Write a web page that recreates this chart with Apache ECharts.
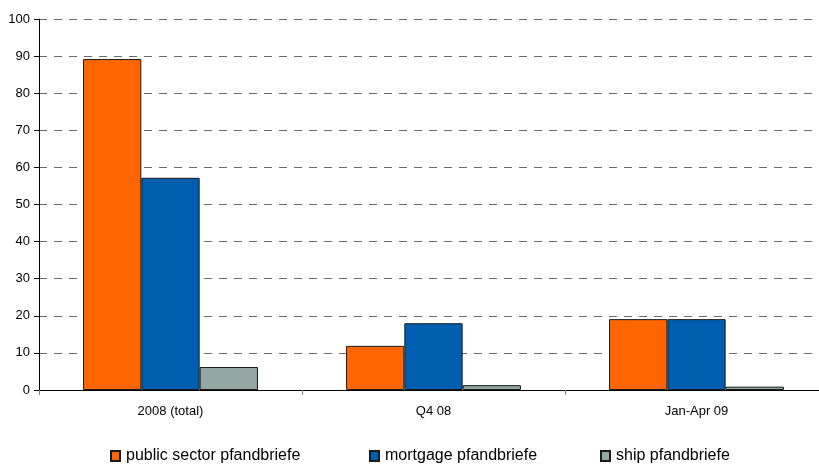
<!DOCTYPE html>
<html><head><meta charset="utf-8">
<script src="https://cdn.jsdelivr.net/npm/echarts@6/dist/echarts.min.js"></script>
<style>html,body{margin:0;padding:0;background:#fff;overflow:hidden;width:819px;height:467px}#c{width:828px;height:467px}</style>
</head><body><div id="c"></div>
<script>
const categories = ['2008 (total)', 'Q4 08', 'Jan-Apr 09'];
const publicSector = [89.2, 11.9, 19.1];
const mortgage = [57.2, 18.0, 19.1];
const ship = [6.2, 1.3, 0.9];
const seriesNames = ['public sector pfandbriefe', 'mortgage pfandbriefe', 'ship pfandbriefe'];
const colors = ['#FF6600', '#005EB0', '#93A7A3'];
const yTicks = [0, 10, 20, 30, 40, 50, 60, 70, 80, 90, 100];

const font = 'Liberation Sans, Arial, sans-serif';
const chart = echarts.init(document.getElementById('c'), null, {renderer: 'canvas'});
const dataSets = [publicSector, mortgage, ship];
const legendLefts = [105, 364, 595];
chart.setOption({
  animation: false,
  grid: {left: 39, top: 19, right: 0, height: 371, containLabel: false},
  legend: seriesNames.map((n, i) => ({
    data: [n], left: legendLefts[i], top: 443, icon: 'rect', itemWidth: 9, itemHeight: 10,
    itemGap: 0,
    textStyle: {fontFamily: font, fontSize: 16, color: '#000', padding: [0, 0, 0, 1]}
  })),
  xAxis: {
    type: 'category', data: categories,
    axisLine: {lineStyle: {color: '#000', width: 1}},
    axisTick: {show: true, length: 5, lineStyle: {color: '#808080'}, alignWithLabel: false},
    axisLabel: {fontFamily: font, fontSize: 13, color: '#000', margin: 15}
  },
  yAxis: {
    type: 'value', min: 0, max: 100, interval: 10,
    axisLine: {show: true, lineStyle: {color: '#000', width: 1}},
    axisTick: {show: true, length: 5, inside: false, lineStyle: {color: '#000'}},
    axisLabel: {fontFamily: font, fontSize: 13, color: '#000', margin: 9,
      formatter: v => yTicks.includes(v) ? String(v) : ''},
    splitLine: {show: true, lineStyle: {color: '#6b6b6b', type: [8, 7], width: 1}}
  },
  series: seriesNames.map((n, i) => ({
    name: n, type: 'bar', data: dataSets[i],
    barGap: '0%', barCategoryGap: '33.5%',
    itemStyle: {color: colors[i], borderColor: '#1a1a1a', borderWidth: 1}
  }))
});
</script></body></html>
